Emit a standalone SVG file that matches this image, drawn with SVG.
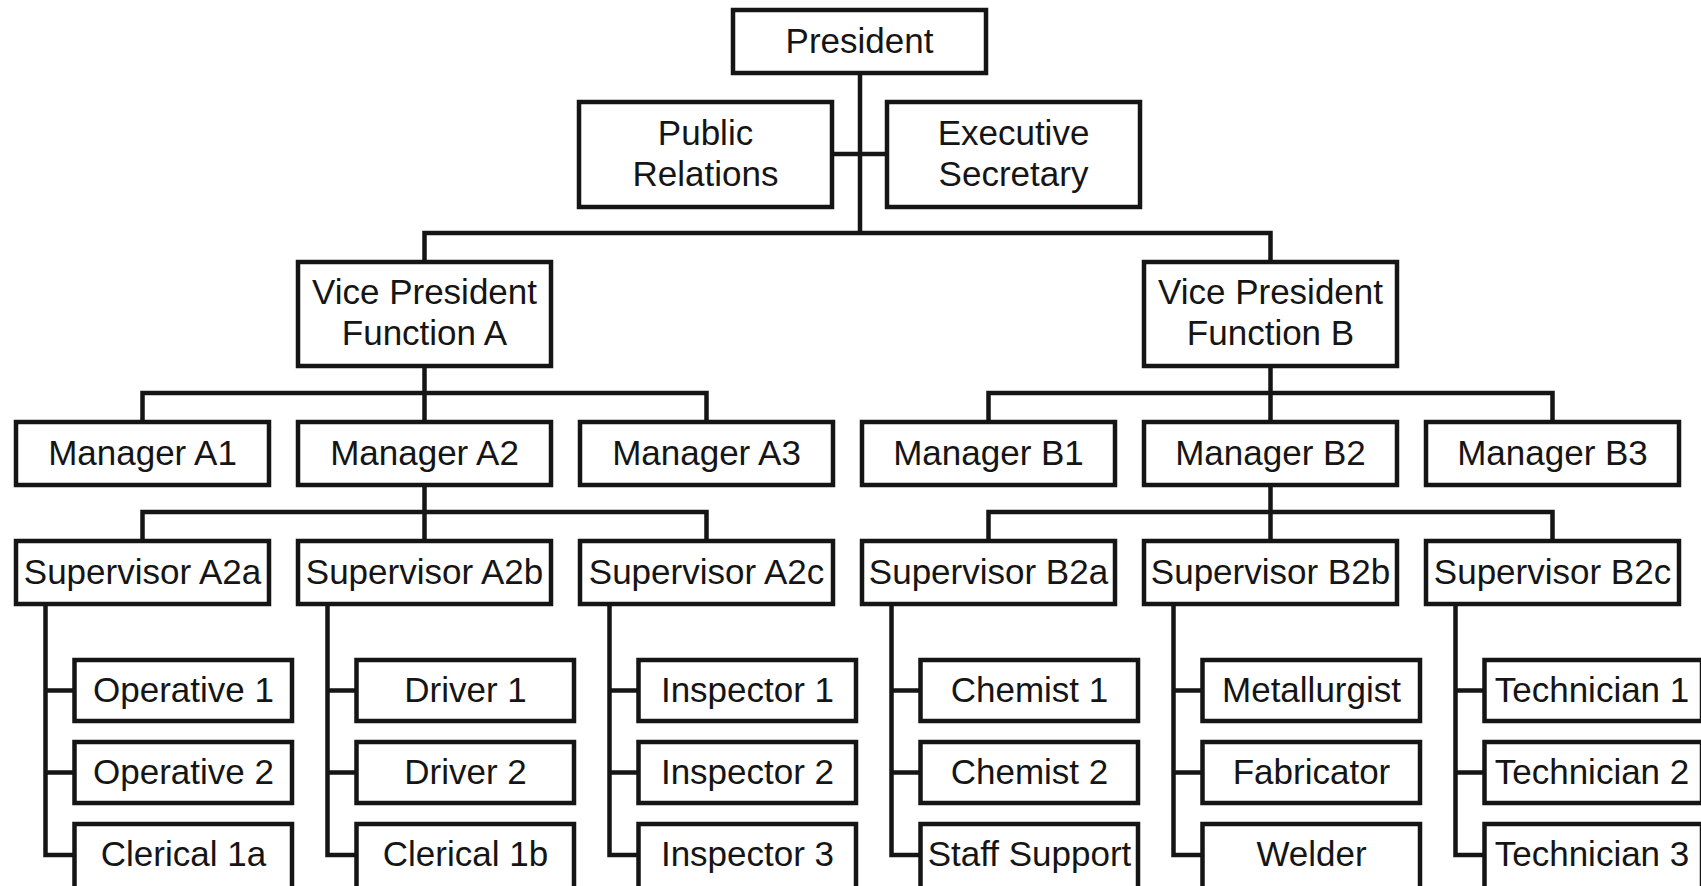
<svg xmlns="http://www.w3.org/2000/svg" width="1701" height="886" viewBox="0 0 1701 886">
<style>
rect.b{fill:#fff;stroke:#151515;stroke-width:4.5}
text{font-family:"Liberation Sans",Arial,sans-serif;font-size:35px;fill:#151515;text-anchor:middle}
.c{fill:none;stroke:#151515;stroke-width:4.5;stroke-linejoin:miter;stroke-linecap:square}
</style>
<rect width="1701" height="886" fill="#fff"/>
<g id="connectors" class="c">
<path d="M860,75 V233 M424.5,260 V233 H1270.5 V260 M834,154 H885"/>
<path d="M142.5,420 V393 H706.5 V420 M424.5,368 V420"/>
<path d="M988.5,420 V393 H1552.5 V420 M1270.5,368 V420"/>
<path d="M142.5,539 V512 H706.5 V539 M424.5,487 V539"/>
<path d="M988.5,539 V512 H1552.5 V539 M1270.5,487 V539"/>
<path d="M45.5,605 V855 H72.5 M45.5,690.5 H72.5 M45.5,772.5 H72.5"/>
<path d="M327.5,605 V855 H354.5 M327.5,690.5 H354.5 M327.5,772.5 H354.5"/>
<path d="M609.5,605 V855 H636.5 M609.5,690.5 H636.5 M609.5,772.5 H636.5"/>
<path d="M891.5,605 V855 H918.5 M891.5,690.5 H918.5 M891.5,772.5 H918.5"/>
<path d="M1173.5,605 V855 H1200.5 M1173.5,690.5 H1200.5 M1173.5,772.5 H1200.5"/>
<path d="M1455.5,605 V855 H1482.5 M1455.5,690.5 H1482.5 M1455.5,772.5 H1482.5"/>
</g>
<g id="president"><rect class="b" x="733" y="10" width="253" height="63"/><text x="859.5" y="53">President</text></g>
<g id="public-relations"><rect class="b" x="579" y="102" width="253" height="105"/><text x="705.5" y="145">Public</text><text x="705.5" y="186">Relations</text></g>
<g id="executive-secretary"><rect class="b" x="887" y="102" width="253" height="105"/><text x="1013.5" y="145">Executive</text><text x="1013.5" y="186">Secretary</text></g>
<g id="vp-a"><rect class="b" x="298" y="262" width="253" height="104"/><text x="424.5" y="304">Vice President</text><text x="424.5" y="345">Function A</text></g>
<g id="vp-b"><rect class="b" x="1144" y="262" width="253" height="104"/><text x="1270.5" y="304">Vice President</text><text x="1270.5" y="345">Function B</text></g>
<g id="manager-a1"><rect class="b" x="16" y="422" width="253" height="63"/><text x="142.5" y="465">Manager A1</text></g>
<g id="manager-a2"><rect class="b" x="298" y="422" width="253" height="63"/><text x="424.5" y="465">Manager A2</text></g>
<g id="manager-a3"><rect class="b" x="580" y="422" width="253" height="63"/><text x="706.5" y="465">Manager A3</text></g>
<g id="manager-b1"><rect class="b" x="862" y="422" width="253" height="63"/><text x="988.5" y="465">Manager B1</text></g>
<g id="manager-b2"><rect class="b" x="1144" y="422" width="253" height="63"/><text x="1270.5" y="465">Manager B2</text></g>
<g id="manager-b3"><rect class="b" x="1426" y="422" width="253" height="63"/><text x="1552.5" y="465">Manager B3</text></g>
<g id="supervisor-a2a"><rect class="b" x="16" y="541" width="253" height="63"/><text x="142.5" y="584">Supervisor A2a</text></g>
<g id="supervisor-a2b"><rect class="b" x="298" y="541" width="253" height="63"/><text x="424.5" y="584">Supervisor A2b</text></g>
<g id="supervisor-a2c"><rect class="b" x="580" y="541" width="253" height="63"/><text x="706.5" y="584">Supervisor A2c</text></g>
<g id="supervisor-b2a"><rect class="b" x="862" y="541" width="253" height="63"/><text x="988.5" y="584">Supervisor B2a</text></g>
<g id="supervisor-b2b"><rect class="b" x="1144" y="541" width="253" height="63"/><text x="1270.5" y="584">Supervisor B2b</text></g>
<g id="supervisor-b2c"><rect class="b" x="1426" y="541" width="253" height="63"/><text x="1552.5" y="584">Supervisor B2c</text></g>
<g id="operative-1"><rect class="b" x="74.5" y="660" width="217.5" height="61"/><text x="183.5" y="702">Operative 1</text></g>
<g id="operative-2"><rect class="b" x="74.5" y="742" width="217.5" height="61"/><text x="183.5" y="784">Operative 2</text></g>
<g id="clerical-1a"><rect class="b" x="74.5" y="824" width="217.5" height="70"/><text x="183.5" y="866">Clerical 1a</text></g>
<g id="driver-1"><rect class="b" x="356.5" y="660" width="217.5" height="61"/><text x="465.5" y="702">Driver 1</text></g>
<g id="driver-2"><rect class="b" x="356.5" y="742" width="217.5" height="61"/><text x="465.5" y="784">Driver 2</text></g>
<g id="clerical-1b"><rect class="b" x="356.5" y="824" width="217.5" height="70"/><text x="465.5" y="866">Clerical 1b</text></g>
<g id="inspector-1"><rect class="b" x="638.5" y="660" width="217.5" height="61"/><text x="747.5" y="702">Inspector 1</text></g>
<g id="inspector-2"><rect class="b" x="638.5" y="742" width="217.5" height="61"/><text x="747.5" y="784">Inspector 2</text></g>
<g id="inspector-3"><rect class="b" x="638.5" y="824" width="217.5" height="70"/><text x="747.5" y="866">Inspector 3</text></g>
<g id="chemist-1"><rect class="b" x="920.5" y="660" width="217.5" height="61"/><text x="1029.5" y="702">Chemist 1</text></g>
<g id="chemist-2"><rect class="b" x="920.5" y="742" width="217.5" height="61"/><text x="1029.5" y="784">Chemist 2</text></g>
<g id="staff-support"><rect class="b" x="920.5" y="824" width="217.5" height="70"/><text x="1029.5" y="866">Staff Support</text></g>
<g id="metallurgist"><rect class="b" x="1202.5" y="660" width="217.5" height="61"/><text x="1311.5" y="702">Metallurgist</text></g>
<g id="fabricator"><rect class="b" x="1202.5" y="742" width="217.5" height="61"/><text x="1311.5" y="784">Fabricator</text></g>
<g id="welder"><rect class="b" x="1202.5" y="824" width="217.5" height="70"/><text x="1311.5" y="866">Welder</text></g>
<g id="technician-1"><rect class="b" x="1484.5" y="660" width="217.5" height="61"/><text x="1592" y="702">Technician 1</text></g>
<g id="technician-2"><rect class="b" x="1484.5" y="742" width="217.5" height="61"/><text x="1592" y="784">Technician 2</text></g>
<g id="technician-3"><rect class="b" x="1484.5" y="824" width="217.5" height="70"/><text x="1592" y="866">Technician 3</text></g>
</svg>
